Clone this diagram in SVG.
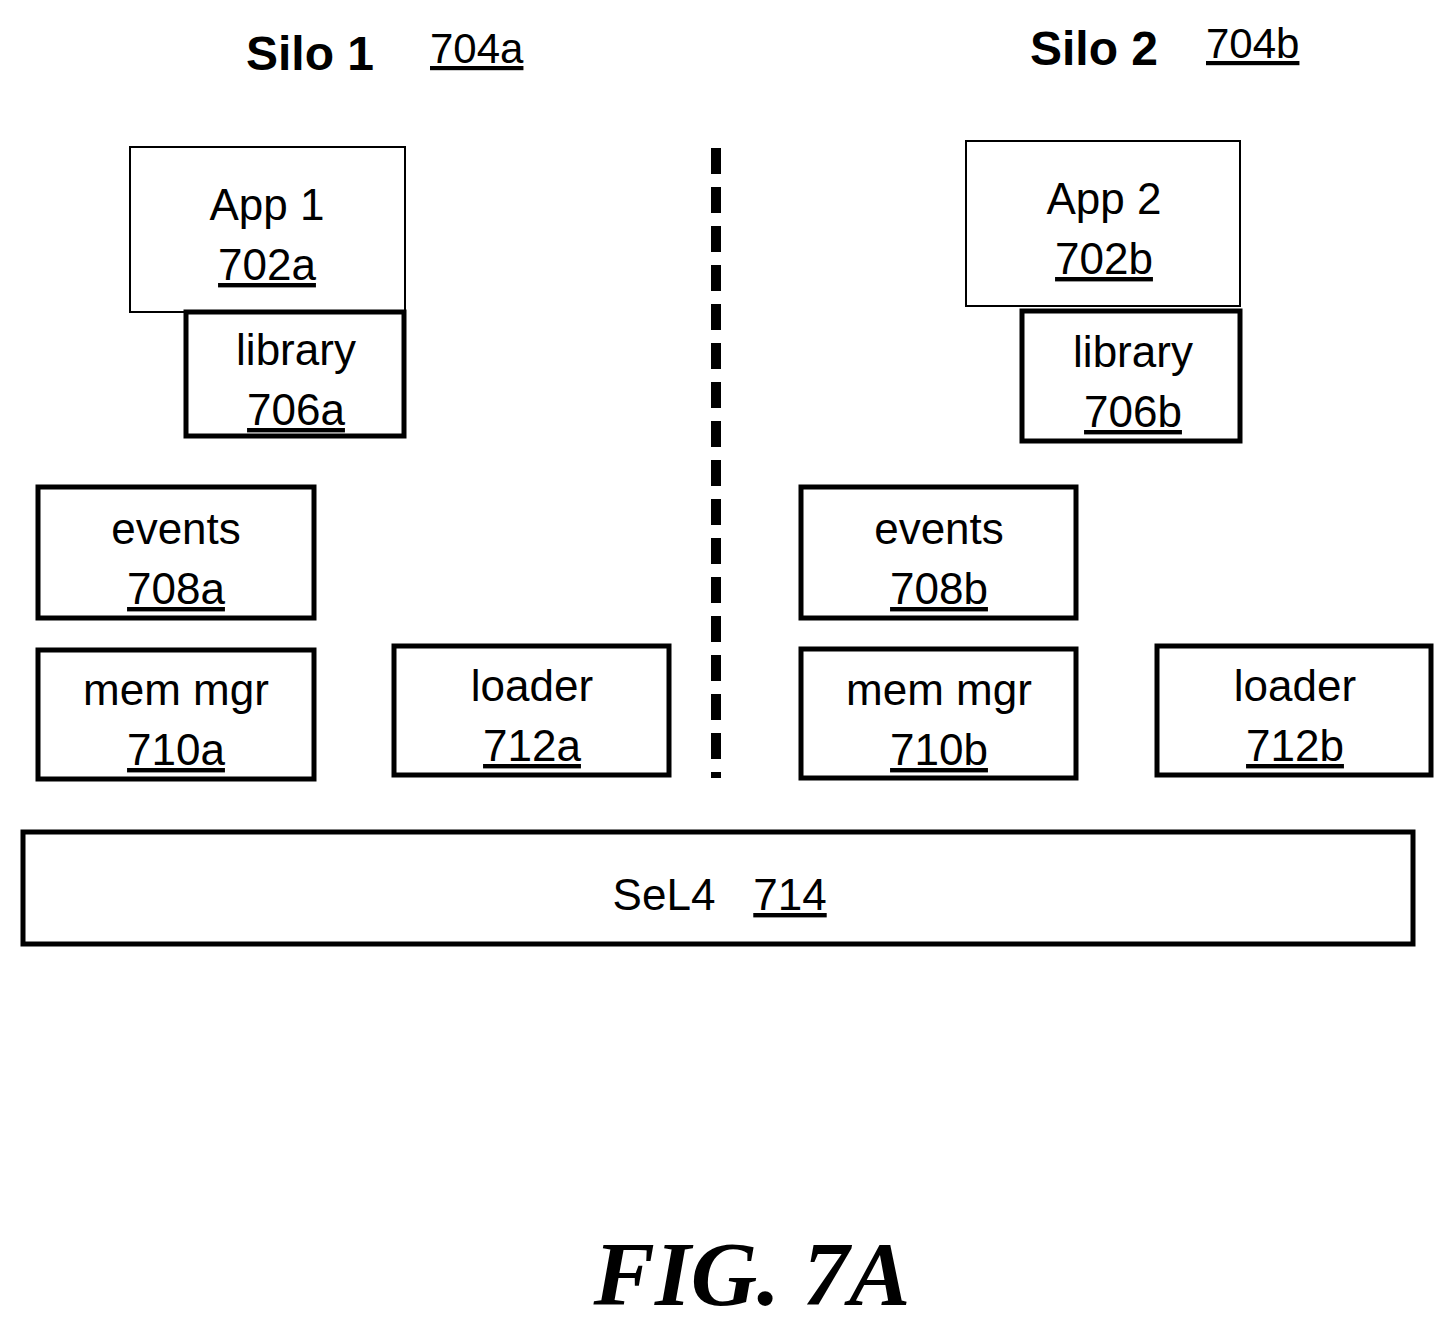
<svg xmlns="http://www.w3.org/2000/svg" width="1455" height="1327" viewBox="0 0 1455 1327">
<style>
.t{font-family:"Liberation Sans",Arial,sans-serif;font-size:44px;fill:#000;text-anchor:middle}
.u{text-decoration:underline}
.thin{fill:#fff;stroke:#000;stroke-width:2}
.thick{fill:#fff;stroke:#000;stroke-width:5}
.h{font-family:"Liberation Sans",Arial,sans-serif;font-size:48px;font-weight:bold}
.r{font-family:"Liberation Sans",Arial,sans-serif;font-size:42px;text-decoration:underline}
</style>
<rect width="1455" height="1327" fill="#fff"/>
<g id="silo1"><text class="h" x="246" y="70">Silo 1</text><text class="r" x="430" y="63">704a</text></g>
<g id="silo2"><text class="h" x="1030" y="65">Silo 2</text><text class="r" x="1206" y="58">704b</text></g>
<g id="app1"><rect class="thin" x="130" y="147" width="275" height="165"/><text class="t" x="267" y="220">App 1</text><text class="t u" x="267" y="280">702a</text></g>
<g id="lib1"><rect class="thick" x="186" y="312" width="218" height="124"/><text class="t" x="296" y="365">library</text><text class="t u" x="296" y="425">706a</text></g>
<g id="app2"><rect class="thin" x="966" y="141" width="274" height="165"/><text class="t" x="1104" y="214">App 2</text><text class="t u" x="1104" y="274">702b</text></g>
<g id="lib2"><rect class="thick" x="1022" y="311" width="218" height="130"/><text class="t" x="1133" y="367">library</text><text class="t u" x="1133" y="427">706b</text></g>
<g id="ev1"><rect class="thick" x="38" y="487" width="276" height="131"/><text class="t" x="176" y="544">events</text><text class="t u" x="176" y="604">708a</text></g>
<g id="mm1"><rect class="thick" x="38" y="650" width="276" height="129"/><text class="t" x="176" y="705">mem mgr</text><text class="t u" x="176" y="765">710a</text></g>
<g id="ld1"><rect class="thick" x="394" y="646" width="275" height="129"/><text class="t" x="532" y="701">loader</text><text class="t u" x="532" y="761">712a</text></g>
<g id="ev2"><rect class="thick" x="801" y="487" width="275" height="131"/><text class="t" x="939" y="544">events</text><text class="t u" x="939" y="604">708b</text></g>
<g id="mm2"><rect class="thick" x="801" y="649" width="275" height="129"/><text class="t" x="939" y="705">mem mgr</text><text class="t u" x="939" y="765">710b</text></g>
<g id="ld2"><rect class="thick" x="1157" y="646" width="274" height="129"/><text class="t" x="1295" y="701">loader</text><text class="t u" x="1295" y="761">712b</text></g>
<g id="sel4"><rect class="thick" x="23" y="832" width="1390" height="112"/><text class="t" x="664" y="910">SeL4</text><text class="t u" x="790" y="910">714</text></g>
<g id="connectors"><line x1="716" y1="148" x2="716" y2="778" stroke="#000" stroke-width="10" stroke-dasharray="26,13"/></g>
<text x="752" y="1305" text-anchor="middle" font-family="'Liberation Serif','Times New Roman',serif" font-size="92" font-weight="bold" font-style="italic">FIG. 7A</text>
</svg>
